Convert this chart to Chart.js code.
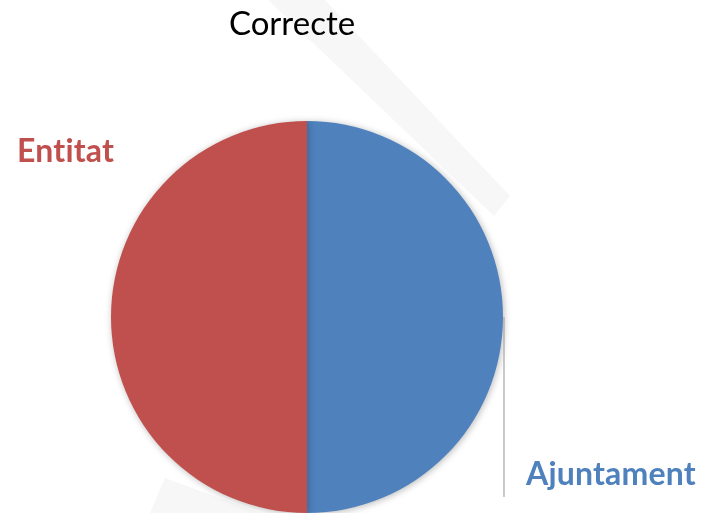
<!DOCTYPE html>
<html>
<head>
<meta charset="utf-8">
<script src="https://cdn.jsdelivr.net/npm/chart.js@4"></script>
<style>
  html, body { margin: 0; padding: 0; background: #fff; }
  #wrap { width: 710px; height: 513px; position: relative; }
</style>
</head>
<body>
<div id="wrap"><canvas id="pie-chart"></canvas></div>
<script>
"use strict";
// chart data
var categories = ["Ajuntament", "Entitat"];
var values = [50, 50];
var sliceColors = ["#4F81BD", "#C0504D"];
var chartTitle = "Correcte";

// faint watermark shapes behind the pie
var watermark = {
  id: 'watermark',
  beforeDraw: function (chart) {
    var ctx = chart.ctx;
    ctx.save();
    ctx.fillStyle = "#f7f7f7";
    ctx.beginPath();
    ctx.moveTo(268, 0);
    ctx.lineTo(325, 0);
    ctx.lineTo(510, 196);
    ctx.lineTo(494, 216);
    ctx.closePath();
    ctx.fill();
    ctx.beginPath();
    ctx.moveTo(150, 513);
    ctx.lineTo(165, 478);
    ctx.lineTo(260, 513);
    ctx.closePath();
    ctx.fill();
    ctx.restore();
  }
};

// soft shadow round the slices
var shadow = {
  id: 'shadow',
  beforeDatasetsDraw: function (chart) {
    var ctx = chart.ctx;
    ctx.save();
    ctx.shadowColor = "rgba(0,0,0,0.28)";
    ctx.shadowBlur = 7;
    ctx.shadowOffsetX = 1;
    ctx.shadowOffsetY = 1;
  },
  afterDatasetsDraw: function (chart) {
    chart.ctx.restore();
  }
};

// title and outside labels, placed from the arc geometry
var labels = {
  id: 'outLabels',
  afterDraw: function (chart) {
    var ctx = chart.ctx;
    var arcs = chart.getDatasetMeta(0).data;
    var a0 = arcs[0];
    var cx = a0.x, cy = a0.y, r = a0.outerRadius;
    ctx.save();
    ctx.textBaseline = "alphabetic";
    ctx.textAlign = "center";
    ctx.fillStyle = "#000";
    ctx.font = "33px Lato, 'Open Sans', sans-serif";
    ctx.fillText(chartTitle, cx - 15, 35);

    // Ajuntament leader line
    ctx.strokeStyle = "#a6a6a6";
    ctx.lineWidth = 1.2;
    ctx.beginPath();
    ctx.moveTo(cx + r + 1, cy);
    ctx.lineTo(cx + r + 1, cy + 180);
    ctx.stroke();

    ctx.textAlign = "left";
    ctx.font = "bold 32px Lato, 'Open Sans', sans-serif";
    if ('letterSpacing' in ctx) ctx.letterSpacing = "0.2px"; // no "ti" ligature
    ctx.fillStyle = sliceColors[0];
    ctx.fillText(categories[0], cx + r + 23, cy + 168);
    ctx.fillStyle = sliceColors[1];
    ctx.fillText(categories[1], cx - r - 94, cy - 155);
    ctx.restore();
  }
};

new Chart(document.getElementById("pie-chart"), {
  type: 'pie',
  data: {
    labels: categories,
    datasets: [{
      data: values,
      backgroundColor: sliceColors,
      borderWidth: 0
    }]
  },
  options: {
    responsive: true,
    maintainAspectRatio: false,
    animation: false,
    layout: { padding: { left: 111, right: 207, top: 121, bottom: 0 } },
    plugins: {
      legend: { display: false },
      title: { display: false },
      tooltip: { enabled: false }
    }
  },
  plugins: [watermark, shadow, labels]
});
</script>
</body>
</html>
